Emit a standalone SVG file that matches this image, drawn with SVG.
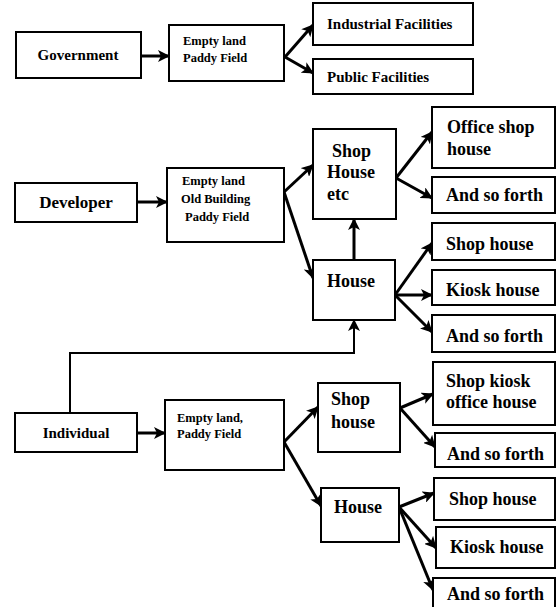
<svg xmlns="http://www.w3.org/2000/svg" width="558" height="607" viewBox="0 0 558 607">
<style>
.box{fill:#fff;stroke:#000;stroke-width:2}
.t{font-family:"Liberation Serif","Times New Roman",serif;font-weight:bold;fill:#000}
.s{font-size:12.5px}
.m{font-size:15px}
.l{font-size:18px}
.c{stroke:#000;stroke-width:3;fill:none;marker-end:url(#ah)}
.c2{stroke:#000;stroke-width:2;fill:none;marker-end:url(#ah)}
</style>
<defs>
<marker id="ah" markerUnits="userSpaceOnUse" markerWidth="12" markerHeight="12" viewBox="0 0 12 12" refX="11" refY="6" orient="auto">
<path d="M0,0 L12,6 L0,12 L3,6 z" fill="#000"/>
</marker>
</defs>
<rect width="558" height="607" fill="#fff"/>
<g id="connectors">
<line class="c" x1="141" y1="56" x2="169" y2="56"/>
<line class="c" x1="285" y1="57" x2="313" y2="25"/>
<line class="c" x1="285" y1="57" x2="313" y2="73"/>
<line class="c" x1="137" y1="202" x2="167" y2="202"/>
<line class="c" x1="284" y1="192" x2="313" y2="165"/>
<line class="c" x1="284" y1="192" x2="313" y2="278"/>
<line class="c" x1="396" y1="178" x2="432" y2="132"/>
<line class="c" x1="396" y1="178" x2="432" y2="198"/>
<line class="c" x1="354" y1="260" x2="354" y2="219"/>
<line class="c" x1="395" y1="295" x2="432" y2="243"/>
<line class="c" x1="395" y1="295" x2="432" y2="295"/>
<line class="c" x1="395" y1="295" x2="432" y2="332"/>
<polyline class="c2" points="70,413 70,353 354,353 354,320"/>
<line class="c" x1="137" y1="433" x2="165" y2="433"/>
<line class="c" x1="284" y1="442" x2="318" y2="407"/>
<line class="c" x1="284" y1="442" x2="321" y2="506"/>
<line class="c" x1="400" y1="408" x2="433" y2="394"/>
<line class="c" x1="400" y1="408" x2="435" y2="447"/>
<line class="c" x1="399" y1="507" x2="434" y2="493"/>
<line class="c" x1="399" y1="507" x2="436" y2="548"/>
<line class="c" x1="399" y1="507" x2="433" y2="590"/>
</g>
<g id="government"><rect class="box" x="16" y="32" width="125" height="46"/><text class="t m" x="78" y="60" text-anchor="middle">Government</text></g>
<g id="land1"><rect class="box" x="169" y="25" width="115" height="56"/><text class="t s" x="183" y="45">Empty land</text><text class="t s" x="183" y="62">Paddy Field</text></g>
<g id="industrial"><rect class="box" x="313" y="3" width="160" height="42"/><text class="t m" x="327" y="29">Industrial Facilities</text></g>
<g id="public"><rect class="box" x="313" y="59" width="160" height="35"/><text class="t m" x="327" y="82">Public Facilities</text></g>
<g id="developer"><rect class="box" x="15" y="183" width="122" height="39"/><text class="t" font-size="17" x="76" y="208" text-anchor="middle">Developer</text></g>
<g id="land2"><rect class="box" x="167" y="168" width="117" height="74"/><text class="t s" x="182" y="185">Empty land</text><text class="t s" x="181" y="203">Old Building</text><text class="t s" x="185" y="221">Paddy Field</text></g>
<g id="shop-house-etc"><rect class="box" x="313" y="129" width="83" height="90"/><text class="t l" x="332" y="157">Shop</text><text class="t l" x="327" y="178">House</text><text class="t l" x="327" y="200">etc</text></g>
<g id="office-shop-house"><rect class="box" x="432" y="107" width="123" height="61"/><text class="t l" x="447" y="133">Office shop</text><text class="t l" x="447" y="155">house</text></g>
<g id="and-so-forth-1"><rect class="box" x="432" y="177" width="123" height="36"/><text class="t l" x="446" y="201">And so forth</text></g>
<g id="house-dev"><rect class="box" x="313" y="260" width="82" height="60"/><text class="t l" x="327" y="287">House</text></g>
<g id="shop-house-1"><rect class="box" x="432" y="223" width="123" height="37"/><text class="t l" x="446" y="250">Shop house</text></g>
<g id="kiosk-house-1"><rect class="box" x="432" y="270" width="123" height="35"/><text class="t l" x="446" y="296">Kiosk house</text></g>
<g id="and-so-forth-2"><rect class="box" x="432" y="315" width="123" height="37"/><text class="t l" x="446" y="342">And so forth</text></g>
<g id="individual"><rect class="box" x="15" y="413" width="122" height="39"/><text class="t m" x="76" y="438" text-anchor="middle">Individual</text></g>
<g id="land3"><rect class="box" x="165" y="400" width="119" height="70"/><text class="t s" x="177" y="422">Empty land,</text><text class="t s" x="177" y="438">Paddy Field</text></g>
<g id="shop-house-ind"><rect class="box" x="318" y="383" width="82" height="69"/><text class="t l" x="331" y="405">Shop</text><text class="t l" x="331" y="428">house</text></g>
<g id="shop-kiosk-office"><rect class="box" x="433" y="362" width="122" height="63"/><text class="t l" x="446" y="387">Shop kiosk</text><text class="t l" x="446" y="408">office house</text></g>
<g id="and-so-forth-3"><rect class="box" x="435" y="433" width="120" height="34"/><text class="t l" x="447" y="460">And so forth</text></g>
<g id="house-ind"><rect class="box" x="321" y="488" width="78" height="54"/><text class="t l" x="334" y="513">House</text></g>
<g id="shop-house-2"><rect class="box" x="434" y="478" width="121" height="42"/><text class="t l" x="449" y="505">Shop house</text></g>
<g id="kiosk-house-2"><rect class="box" x="436" y="527" width="119" height="41"/><text class="t l" x="450" y="553">Kiosk house</text></g>
<g id="and-so-forth-4"><rect class="box" x="433" y="578" width="122" height="34"/><text class="t l" x="447" y="600">And so forth</text></g>
</svg>
